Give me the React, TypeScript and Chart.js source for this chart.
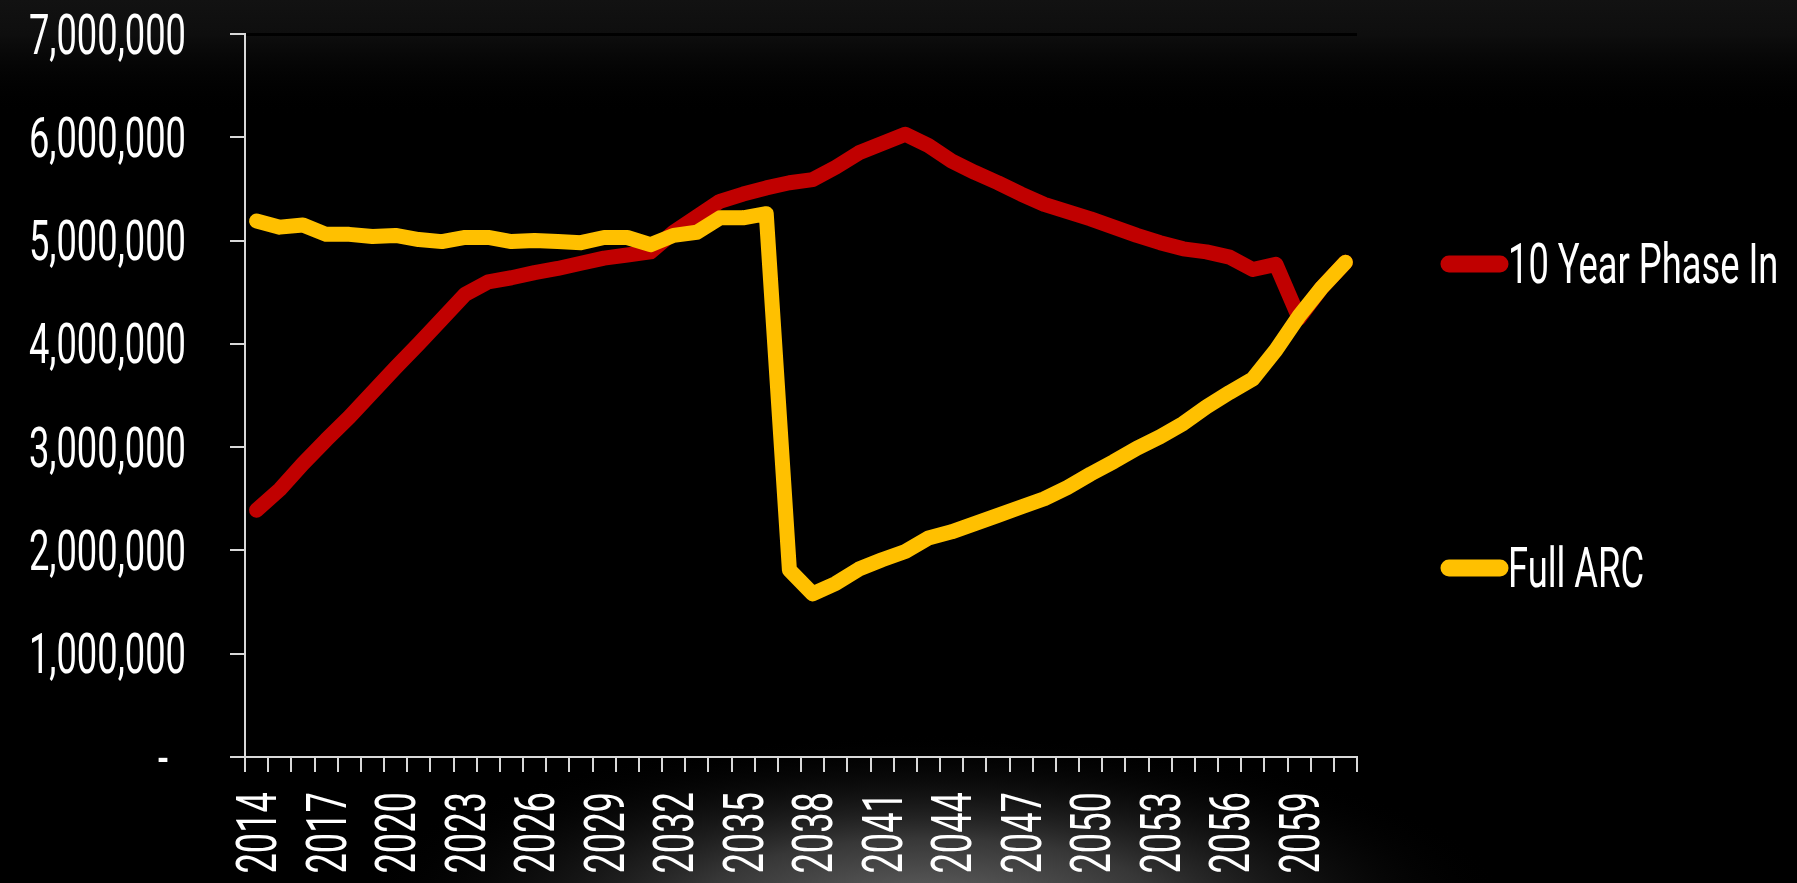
import { useEffect, useRef } from "react";
import { Chart, registerables } from "chart.js";

Chart.register(...registerables);

// Projection years (one category per year)
const years = [
  "2014", "2015", "2016", "2017", "2018", "2019", "2020", "2021", "2022", "2023",
  "2024", "2025", "2026", "2027", "2028", "2029", "2030", "2031", "2032", "2033",
  "2034", "2035", "2036", "2037", "2038", "2039", "2040", "2041", "2042", "2043",
  "2044", "2045", "2046", "2047", "2048", "2049", "2050", "2051", "2052", "2053",
  "2054", "2055", "2056", "2057", "2058", "2059", "2060", "2061",
];

// "10 Year Phase In" scenario
const phaseIn = [
  2390000, 2590000, 2840000, 3070000, 3290000, 3530000, 3770000, 4000000, 4240000, 4480000,
  4600000, 4640000, 4690000, 4730000, 4780000, 4830000, 4860000, 4890000, 5080000, 5230000,
  5380000, 5450000, 5510000, 5560000, 5590000, 5710000, 5850000, 5940000, 6030000, 5920000,
  5770000, 5660000, 5560000, 5450000, 5350000, 5280000, 5210000, 5130000, 5050000, 4980000,
  4920000, 4890000, 4840000, 4720000, 4770000, 4250000, 4550000, 4790000,
];

// "Full ARC" scenario
const fullArc = [
  5190000, 5130000, 5150000, 5060000, 5060000, 5040000, 5050000, 5010000, 4990000, 5030000,
  5030000, 4990000, 5000000, 4990000, 4980000, 5030000, 5030000, 4960000, 5050000, 5080000,
  5220000, 5220000, 5260000, 1810000, 1580000, 1680000, 1820000, 1910000, 1990000, 2120000,
  2180000, 2260000, 2340000, 2420000, 2500000, 2610000, 2740000, 2860000, 2990000, 3100000,
  3230000, 3390000, 3530000, 3660000, 3940000, 4270000, 4550000, 4790000,
];

const seriesNames = ["10 Year Phase In", "Full ARC"];
const seriesColors = ["#C00000", "#FFC000"];

// Value axis
const yTickValues = [0, 1000000, 2000000, 3000000, 4000000, 5000000, 6000000, 7000000];
const yTickLabels = ["-  ", "1,000,000", "2,000,000", "3,000,000", "4,000,000", "5,000,000", "6,000,000", "7,000,000"];
const xLabelEvery = 3;

// Narrow display lettering: a regular face squeezed horizontally
const FONT_SIZE = 55;
const FONT = `400 ${FONT_SIZE}px Roboto, "DejaVu Sans", sans-serif`;
const SQUEEZE = 0.66;
const CAP = 39;
const AXIS_COLOR = "#d9d9d9";
const TEXT_COLOR = "#ffffff";

function squeezedText(
  ctx: CanvasRenderingContext2D,
  text: string,
  x: number,
  y: number,
  align: CanvasTextAlign,
  angle = 0
) {
  ctx.save();
  ctx.translate(x, y);
  if (angle) ctx.rotate(angle);
  ctx.scale(SQUEEZE, 1);
  ctx.font = FONT;
  ctx.fillStyle = TEXT_COLOR;
  ctx.textAlign = align;
  ctx.textBaseline = "alphabetic";
  ctx.fillText(text, 0, CAP / 2);
  ctx.restore();
}

const backdrop = {
  id: "backdrop",
  beforeDraw(chart: Chart) {
    const { ctx, width, height, chartArea } = chart;
    ctx.save();
    ctx.fillStyle = "#000";
    ctx.fillRect(0, 0, width, height);

    const top = ctx.createLinearGradient(0, 0, 0, 115);
    top.addColorStop(0, "#121212");
    top.addColorStop(0.3, "#0e0e0e");
    top.addColorStop(1, "rgba(0,0,0,0)");
    ctx.fillStyle = top;
    ctx.fillRect(0, 0, width, 115);

    ctx.save();
    ctx.translate(930, height + 25);
    ctx.scale(1, 0.3);
    const glow = ctx.createRadialGradient(0, 0, 0, 0, 0, 580);
    glow.addColorStop(0, "rgba(100,100,100,1)");
    glow.addColorStop(0.4, "rgba(55,55,55,1)");
    glow.addColorStop(1, "rgba(0,0,0,0)");
    ctx.fillStyle = glow;
    ctx.fillRect(-620, -700, 1240, 700);
    ctx.restore();

    ctx.fillStyle = "#000";
    ctx.fillRect(chartArea.left, chartArea.top - 1, chartArea.right - chartArea.left, 3);
    ctx.restore();
  },
};

const lettering = {
  id: "lettering",
  afterDraw(chart: Chart) {
    const { ctx, chartArea } = chart;
    const xs = chart.scales.x;
    const ys = chart.scales.y;

    yTickValues.forEach((v, i) => {
      squeezedText(ctx, yTickLabels[i], 186, ys.getPixelForValue(v), "right");
    });

    years.forEach((label, i) => {
      if (i % xLabelEvery !== 0) return;
      squeezedText(ctx, label, xs.getPixelForValue(i), chartArea.bottom + 35, "right", -Math.PI / 2);
    });

    // legend
    const legendY = [264, 568];
    seriesNames.forEach((name, i) => {
      ctx.save();
      ctx.strokeStyle = seriesColors[i];
      ctx.lineWidth = 17;
      ctx.lineCap = "round";
      ctx.beginPath();
      ctx.moveTo(1449, legendY[i]);
      ctx.lineTo(1500, legendY[i]);
      ctx.stroke();
      ctx.restore();
      squeezedText(ctx, name, 1508, legendY[i] - 1, "left");
    });
  },
};

export default function App() {
  const canvasRef = useRef<HTMLCanvasElement | null>(null);

  useEffect(() => {
    document.body.style.margin = "0";
    document.body.style.background = "#000";
    const canvas = canvasRef.current;
    if (!canvas) return;

    const chart = new Chart(canvas, {
      type: "line",
      data: {
        labels: years,
        datasets: [
          {
            label: seriesNames[0],
            data: phaseIn,
            borderColor: seriesColors[0],
            backgroundColor: seriesColors[0],
            borderWidth: 15,
            borderCapStyle: "round",
            borderJoinStyle: "round",
            pointRadius: 0,
            tension: 0,
            order: 1,
          },
          {
            label: seriesNames[1],
            data: fullArc,
            borderColor: seriesColors[1],
            backgroundColor: seriesColors[1],
            borderWidth: 15,
            borderCapStyle: "round",
            borderJoinStyle: "round",
            pointRadius: 0,
            tension: 0,
            order: 0,
          },
        ],
      },
      options: {
        responsive: false,
        animation: false,
        events: [],
        layout: { padding: { left: 0, top: 34, right: 440, bottom: 0 } },
        plugins: {
          legend: { display: false },
          tooltip: { enabled: false },
        },
        scales: {
          x: {
            type: "category",
            offset: true,
            grid: {
              display: true,
              drawOnChartArea: false,
              drawTicks: true,
              tickLength: 15,
              offset: true,
              color: AXIS_COLOR,
              lineWidth: 2,
            },
            border: { display: true, color: AXIS_COLOR, width: 2 },
            ticks: { display: false },
            afterFit: (s: any) => {
              s.height = 126;
            },
          },
          y: {
            min: 0,
            max: 7000000,
            grid: {
              display: true,
              drawOnChartArea: false,
              drawTicks: true,
              tickLength: 15,
              color: AXIS_COLOR,
              lineWidth: 2,
            },
            border: { display: true, color: AXIS_COLOR, width: 2 },
            ticks: { display: false, stepSize: 1000000 },
            afterFit: (s: any) => {
              s.width = 245;
            },
          },
        },
      },
      plugins: [backdrop, lettering],
    });

    return () => chart.destroy();
  }, []);

  return (
    <canvas
      ref={canvasRef}
      width={1797}
      height={883}
      style={{ display: "block", width: 1797, height: 883 }}
    />
  );
}
